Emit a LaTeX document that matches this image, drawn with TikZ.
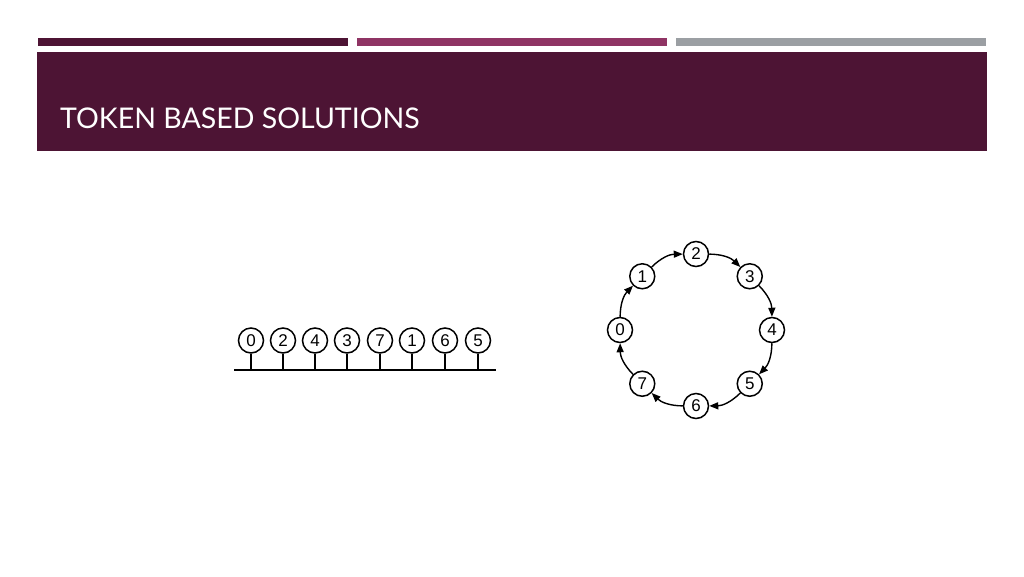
\documentclass[tikz,border=0pt]{standalone}
\usepackage{fontspec}
\setmainfont{Liberation Sans}
\newfontfamily\titlefont{Lato}
\usetikzlibrary{calc,arrows.meta}
\definecolor{plum}{HTML}{4D1434}
\definecolor{berry}{HTML}{8F3464}
\definecolor{slate}{HTML}{9B9FA3}
\tikzset{
  station/.style={circle,draw,line width=1.5pt,inner sep=0pt,minimum size=25pt,
    font=\fontsize{17}{17}\selectfont},
  ringarrow/.style={line width=1.4pt,-{Triangle[length=9pt,width=7pt]}},
}
\begin{document}
\begin{tikzpicture}[x=1pt,y=-1pt]
    \useasboundingbox (0,0) rectangle (1024,576);
    % header bars
    \fill[plum] (38,38) rectangle (348,46);
    \fill[berry] (357,38) rectangle (667,46);
    \fill[slate] (676,38) rectangle (986,46);
    \fill[plum] (37,52) rectangle (987,151);
    \node[anchor=base west,inner sep=0pt,text=white,font=\titlefont\fontsize{28.5}{28.5}\selectfont] (title) at (60,128.5) {TOKEN BASED SOLUTIONS};
    % bus
    \coordinate (busL) at (234,370);
    \coordinate (busR) at (496,370);
    \draw[line width=1.8pt] (busL) -- (busR);
    \foreach \n/\x [count=\i] in {0/251,2/283,4/315,3/347,7/380,1/412,6/445,5/478}{
        \node[station] (b\i) at (\x,340.5) {\n};
        \draw[line width=1.4pt] (b\i.south) -- (b\i.south |- busL);
    }
    % ring
    \coordinate (hub) at (696,330);
    \foreach \k in {0,...,7}
        \node[station] (r\k) at ($(hub)+({45*\k-180}:76)$) {\k};
    \foreach \k [evaluate=\k as \j using {int(mod(\k+1,8))}] in {0,...,7}
        \draw[ringarrow] (r\k) to[bend left=22] (r\j);
\end{tikzpicture}
\end{document}
